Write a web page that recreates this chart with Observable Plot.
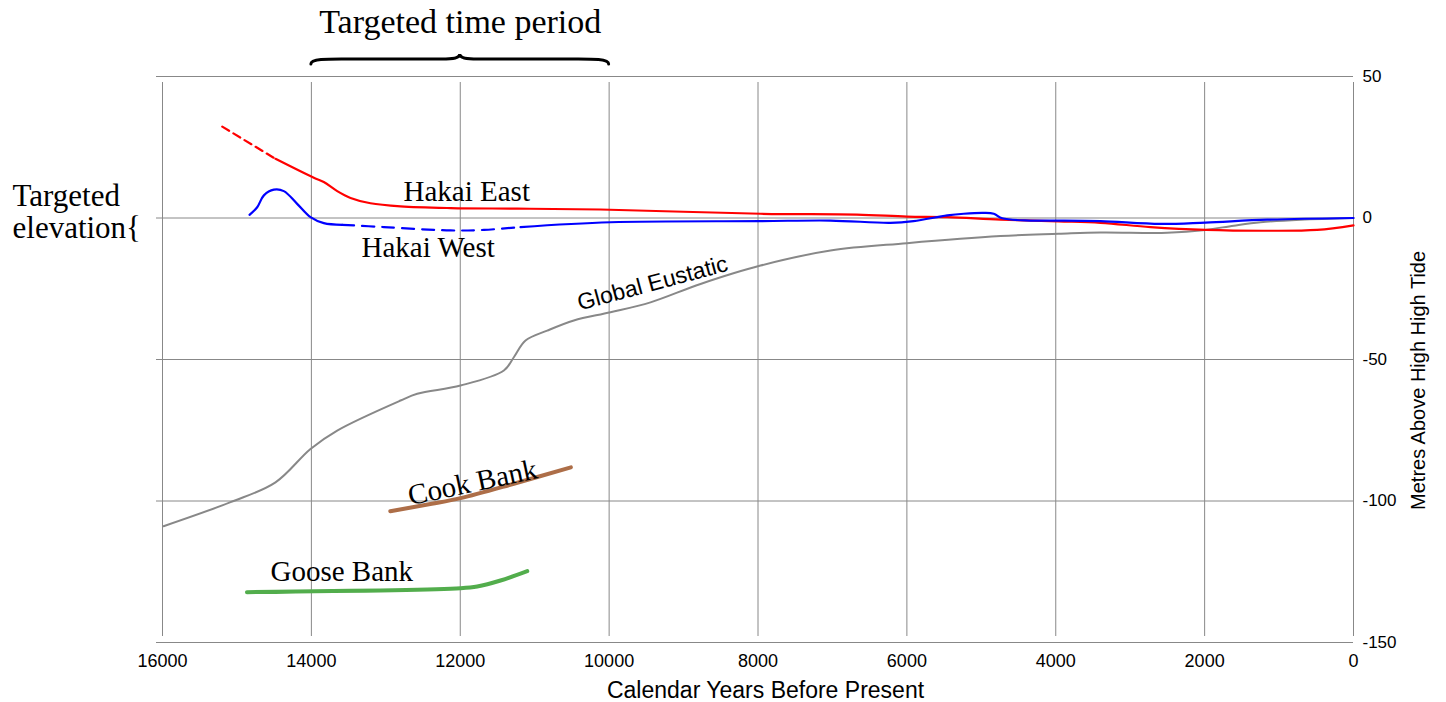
<!DOCTYPE html>
<html>
<head>
<meta charset="utf-8">
<script src="https://cdn.jsdelivr.net/npm/d3@7"></script>
<script src="https://cdn.jsdelivr.net/npm/@observablehq/plot@0.6"></script>
<style>
  html, body { margin: 0; padding: 0; background: #fff; }
  #chart svg { display: block; }
  g[aria-label="x-tick-labels"] text { letter-spacing: -1.2px; }
  g[aria-label="y-tick-labels"] text { letter-spacing: -0.8px; }
  g[aria-label="x-title"] text { letter-spacing: 1px; }
</style>
</head>
<body>
<div id="chart"></div>
<script>
// ---- ticks ----
const xTicks = [16000, 14000, 12000, 10000, 8000, 6000, 4000, 2000, 0];
const yTicks = [50, 0, -50, -100, -150];

// ---- series (years before present, metres above HHT) ----
const hakaiEastDashedYears = [15197, 14482];
const hakaiEastDashedValues = [32.3, 20.9];
const hakaiEastYears = [14482, 13967, 13833, 13653, 13474, 13206, 12802, 12130, 11235, 10116, 7966, 6672, 5999, 5458, 4742, 3963, 3399, 2727, 1988, 1159, 488, 0];
const hakaiEastValues = [20.9, 14.2, 12.7, 9.5, 7.1, 5.2, 4.1, 3.5, 3.3, 3.0, 1.5, 1.2, 0.5, 0.3, -0.6, -1.2, -1.7, -3.2, -4.2, -4.5, -4.2, -2.6];

const hakaiWestEarlyYears = [14831, 14728, 14638, 14504, 14370, 14191, 14012, 13833, 13586];
const hakaiWestEarlyValues = [1.1, 3.8, 8.0, 10.0, 9.5, 5.0, 0.3, -1.8, -2.4];
const hakaiWestDashedYears = [13586, 13027, 12130, 11683, 11190];
const hakaiWestDashedValues = [-2.4, -3.2, -4.4, -4.2, -3.2];
const hakaiWestLateYears = [11190, 9981, 7966, 7026, 6220, 5911, 5458, 5235, 4966, 4832, 4719, 4339, 3963, 3399, 2593, 1988, 1159, 0];
const hakaiWestLateValues = [-3.2, -1.5, -1.1, -0.9, -1.7, -1.1, 0.9, 1.5, 1.8, 1.5, -0.1, -0.9, -0.9, -1.1, -2.1, -1.6, -0.6, 0];

const eustaticYears = [15986, 15086, 14482, 14012, 13653, 12802, 12578, 11996, 11414, 11280, 11123, 10832, 10474, 9981, 9444, 8772, 7966, 7026, 5999, 4742, 3963, 3399, 2503, 1988, 1608, 1249, 712, 0];
const eustaticValues = [-108.9, -100.4, -93.4, -81.6, -75.1, -64.5, -62.1, -59.2, -53.9, -49.2, -43.3, -39.8, -36.2, -33.3, -29.8, -23.3, -16.8, -11.5, -8.9, -6.4, -5.6, -5.1, -5.2, -4.2, -2.7, -1.5, -0.6, 0];

const cookYears = [12940, 12383, 11996, 11280, 10514];
const cookValues = [-103.6, -101.0, -99.0, -93.9, -88.1];

const gooseYears = [14865, 11996, 11772, 11459, 11100];
const gooseValues = [-132.2, -130.8, -130.2, -128.1, -124.8];

// ---- annotations ----
const targetedPeriod = { start: 14000, end: 10000, level: 56 };
const seriesLabels = [
  { text: "Hakai East", x: 12762, y: 9.4 },
  { text: "Hakai West", x: 13326, y: -10.4 },
  { text: "Goose Bank", x: 14549, y: -124.9 }
];
const cookLabel = { text: "Cook Bank", x: 11835, y: -93.5, rotate: -12 };
const eustaticLabel = { text: "Global Eustatic", x: 9417, y: -23.1, rotate: -15 };
const sideLabel = { text: "Targeted\nelevation{", x: 18015, y: 2.1 };

const pts = (xs, ys) => xs.map((x, i) => ({ x, y: ys[i] }));

const serif = "'Liberation Serif', 'Times New Roman', serif";
const sans = "'Liberation Sans', Arial, sans-serif";
const grid = "#888";

function brace(index, scales) {
  const x1 = scales.x(targetedPeriod.start);
  const x2 = scales.x(targetedPeriod.end);
  const y0 = scales.y(targetedPeriod.level);
  const xm = (x1 + x2) / 2;
  const d = `M${x1},${y0 + 5} C${x1},${y0 - 1} ${x1 + 20},${y0} ${x1 + 45},${y0}
             L${xm - 18},${y0} C${xm - 6},${y0} ${xm},${y0 - 1} ${xm},${y0 - 5}
             C${xm},${y0 - 1} ${xm + 6},${y0} ${xm + 18},${y0}
             L${x2 - 45},${y0} C${x2 - 20},${y0} ${x2},${y0 - 1} ${x2},${y0 + 5}`;
  const p = document.createElementNS("http://www.w3.org/2000/svg", "path");
  p.setAttribute("d", d);
  p.setAttribute("fill", "none");
  p.setAttribute("stroke", "#000");
  p.setAttribute("stroke-width", "3");
  p.setAttribute("stroke-linecap", "round");
  return p;
}

const chart = Plot.plot({
  width: 1446,
  height: 702,
  marginLeft: 162,
  marginRight: 93,
  marginTop: 76,
  marginBottom: 60,
  x: { domain: [16000, 0], axis: null },
  y: { domain: [-150, 50], axis: null },
  style: { background: "#fff", overflow: "visible" },
  marks: [
    Plot.ruleX(xTicks, { x: d => d, y1: -150, y2: 50, stroke: grid, strokeWidth: 1, insetTop: -6, insetBottom: -6 }),
    Plot.ruleY(yTicks, { y: d => d, x1: 16000, x2: 0, stroke: grid, strokeWidth: 1, insetLeft: -6 }),
    Plot.text(xTicks, { x: d => d, y: -150, text: d => String(d), dy: 19, fontSize: 18, fontFamily: sans, fill: "#000", ariaLabel: "x-tick-labels" }),
    Plot.text(yTicks, { x: 0, y: d => d, text: d => String(d), dx: 9, textAnchor: "start", fontSize: 17, fontFamily: sans, fill: "#000", ariaLabel: "y-tick-labels" }),
    Plot.text(["Calendar Years Before Present"], { x: 7899, y: -167, text: d => d, fontSize: 23, fontFamily: sans, fill: "#000", ariaLabel: "x-title" }),
    Plot.text(["Metres Above High High Tide"], { x: 0, y: -57.4, dx: 65, rotate: -90, text: d => d, fontSize: 20, fontFamily: sans, fill: "#000" }),

    Plot.line(pts(eustaticYears, eustaticValues), { x: "x", y: "y", stroke: "#888", strokeWidth: 2, curve: "catmull-rom" }),
    Plot.line(pts(cookYears, cookValues), { x: "x", y: "y", stroke: "#ad6e48", strokeWidth: 4, curve: "catmull-rom" }),
    Plot.line(pts(gooseYears, gooseValues), { x: "x", y: "y", stroke: "#52ad4c", strokeWidth: 4, curve: "catmull-rom" }),
    Plot.line(pts(hakaiEastDashedYears, hakaiEastDashedValues), { x: "x", y: "y", stroke: "#ff0000", strokeWidth: 2.2, strokeDasharray: "8,5" }),
    Plot.line(pts(hakaiEastYears, hakaiEastValues), { x: "x", y: "y", stroke: "#ff0000", strokeWidth: 2.2, curve: "catmull-rom" }),
    Plot.line(pts(hakaiWestEarlyYears, hakaiWestEarlyValues), { x: "x", y: "y", stroke: "#0000ff", strokeWidth: 2.2, curve: "catmull-rom" }),
    Plot.line(pts(hakaiWestDashedYears, hakaiWestDashedValues), { x: "x", y: "y", stroke: "#0000ff", strokeWidth: 2.2, strokeDasharray: "12,8", curve: "catmull-rom" }),
    Plot.line(pts(hakaiWestLateYears, hakaiWestLateValues), { x: "x", y: "y", stroke: "#0000ff", strokeWidth: 2.2, curve: "catmull-rom" }),

    Plot.text(seriesLabels, { x: "x", y: "y", text: "text", textAnchor: "start", fontSize: 29, fontFamily: serif, fill: "#000" }),
    Plot.text([cookLabel], { x: "x", y: "y", text: "text", rotate: cookLabel.rotate, fontSize: 29, fontFamily: serif, fill: "#000" }),
    Plot.text([eustaticLabel], { x: "x", y: "y", text: "text", rotate: eustaticLabel.rotate, fontSize: 23, fontFamily: sans, fill: "#000" }),
    Plot.text([sideLabel], { x: "x", y: "y", text: "text", textAnchor: "start", lineHeight: 1.02, fontSize: 31, fontFamily: serif, fill: "#000" }),
    Plot.text(["Targeted time period"], { x: 12000, y: 69.1, text: d => d, fontSize: 34, fontFamily: serif, fill: "#000" }),
    brace
  ]
});

document.getElementById("chart").appendChild(chart);
</script>
</body>
</html>
